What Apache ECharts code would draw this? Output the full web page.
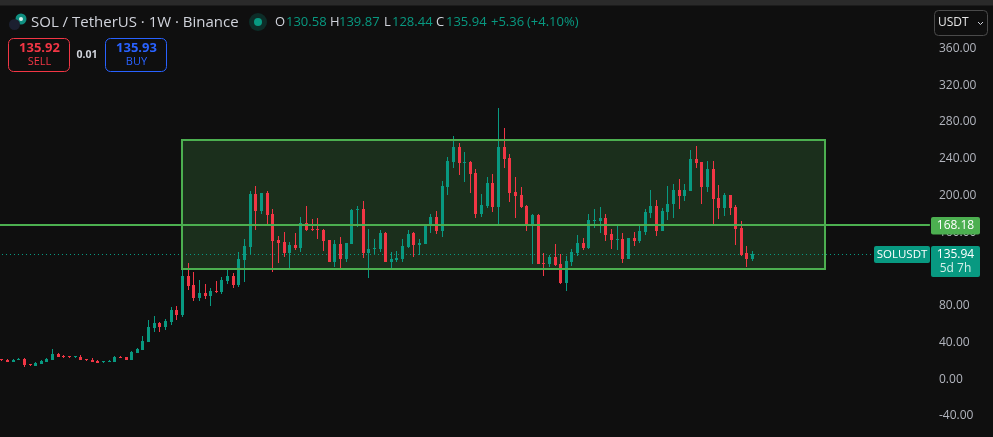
<!DOCTYPE html>
<html>
<head>
<meta charset="utf-8">
<style>html,body{margin:0;padding:0;background:#0f0f0f}#c{width:993px;height:437px}</style>
<script src="https://cdn.jsdelivr.net/npm/echarts@6/dist/echarts.min.js"></script>
</head>
<body>
<div id="c"></div>
<script>
const opens = [21.9,20.8,18.6,20.8,21.9,16.4,14.2,16.4,18.6,20.8,
27.3,25.1,25.1,24,24,21.9,20.8,19.7,18.6,18.6,
18.6,24,24,20.8,28.4,31.7,40.4,55.6,61,56.7,
62.2,75.2,69.8,112.3,102.5,88.4,93.8,90.5,96,94.9,
106.9,112.3,102.5,129.8,143.9,201.7,183.1,202.7,179.9,151.5,
149.4,137.4,146.1,142.8,170.1,163.5,163.5,162.4,151.5,127.6,
147.2,130.8,147.2,184.2,185.3,137.4,141.7,141.7,159.2,127.6,
129.8,130.8,143.9,159.2,146.1,147.2,166.8,176.6,161.3,209.2,
236.5,252.8,235.4,236.5,224.5,179.8,188.5,213.6,187.4,252.8,
240.8,203.8,200.5,188.6,167.9,178.8,126.5,125.4,133,125.4,
104.7,127.6,137.4,148.3,142.8,172.2,172.2,175.5,158.1,151.5,
152.6,130.8,153.7,150.5,160.3,181,188.6,161.4,182.1,190.8,
206,199.5,204.9,239.8,236.5,209.3,228.9,197.3,186.4,200.6,
187.5,164.6,137.4,130.58];
const closes = [20.8,18.6,20.8,21.9,15.3,15.3,17.5,19.7,21.9,27.3,
24,24,24,25.1,20.8,20.8,18.6,17.5,19.7,19.7,
24,23,20.8,29.5,32.8,41.5,56.7,61,56.7,63.2,
75.2,69.8,112.3,101.4,88.4,93.8,90.5,96,94.9,108,
112.3,102.5,130.8,145,201.7,183.1,202.7,178.8,150.5,148.3,
137.4,146.1,142.8,170.1,162.4,162.4,162.4,150.5,127.6,147.2,
130.8,148.3,184.2,185.3,137.4,141.7,142.8,159.2,127.6,130.8,
131.9,145,158.1,146.1,148.3,167.9,176.6,161.3,210.4,237.6,
252.8,235.4,236.5,223.4,179.8,189.6,213.6,187.4,252.8,239.7,
202.7,199.4,187.4,167.9,178.8,125.4,125.4,133,124.3,104.7,
128.7,138.5,148.3,142.8,173.3,173.3,175.5,157,151.5,152.6,
130.8,153.7,150.4,161.4,182.1,188.6,161.4,183.2,190.8,206,
199.5,206,239.8,235.4,209.3,228.9,196.2,186.4,200.6,186.4,
163.5,135.2,130.58,135.94];
const highs = [21.9,21.9,21.9,23,23,16.4,18.6,20.8,23,32.8,
28.4,26.2,25.1,25.1,26.2,21.9,23,20.8,19.7,20.8,
25.1,25.1,24,30.6,33.8,46.9,64.3,68.7,62.2,65.4,
78.5,79.6,118.9,126.5,116.7,108,103.6,99.3,106.9,111.2,
118.9,115.6,138.5,152.6,204.9,210.4,202.7,204.9,185.3,155.9,
160.3,149.4,159.2,176.6,188.6,174.4,175.5,163.5,151.5,151.5,
154.8,148.3,185.3,188.6,194,163.5,152.6,162.4,160.3,138.5,
139.6,152.6,162.4,160.3,152.6,167.9,179.9,183.1,215.8,241.9,
264.8,257.2,247.4,237.6,228.8,201.6,220.1,223.4,295.3,273.5,
245.2,220.1,209.2,189.7,179.9,179.9,137.4,135.2,147.2,136.3,
134.1,141.7,157,153.7,179.9,185.3,187.5,179.9,163.5,169,
159.2,153.7,160.3,166.8,185.3,206,195.1,186.4,210.4,212.6,
218,212.6,249.6,254,236.5,237.6,237.6,211.5,202.8,200.6,
189.7,172.3,145,139.87];
const lows = [19.7,18.6,18.6,20.8,13.1,14.2,14.2,16.4,18.6,20.8,
24,23,23,23,20.8,19.7,18.6,17.5,17.5,18.6,
18.6,23,20.8,20.8,28.4,31.7,40.4,51.3,51.3,53.4,
58.9,64.3,67.6,97.1,85.1,85.1,87.3,79.7,93.8,92.7,
103.6,99.3,100.3,105.8,135.2,162.4,179.9,167.9,116.7,126.5,
133,118.9,140.7,138.5,161.3,161.3,152.6,139.6,127.6,122.1,
121,127.6,147.2,165.7,132,110.2,136.3,138.5,127.6,120,
127.6,127.6,142.8,133,135.2,147.2,159.2,158.1,154.8,200.5,
229.9,222.3,214.7,202.7,175.5,176.6,186.4,182,168.9,229.9,
192.9,175.5,186.4,161.3,125.4,125.4,112.3,122.1,123.2,103.6,
96,123.2,134.1,140.7,141.7,164.6,159.2,150.4,141.7,140.7,
126.5,130.8,145,148.3,157,175.5,156,161.4,173.4,175.5,
185.3,194,204.9,230,190.8,203.9,169,174.4,177.7,178.8,
146.1,134.1,122.2,128.44];
const slotCount = 165;                 // candles plus the empty space to the right
const boxLow = 120.3, boxHigh = 260.5, boxFrom = 32, boxTo = 146;
const hLine = 168.18, lastPrice = 135.94;
const axisMin = -60, axisMax = 400, axisStep = 20;
const shownTicks = [360,320,280,240,200,160,120,80,40,0,-40];

const UP = '#089981', DOWN = '#f23645', BOX = '#4caf50', AXIS = '#b2b5be';
const FONT = '"Open Sans","Noto Sans",sans-serif';
const X_SHIFT = -1.5;                  // the first candle is cut by the left edge of the window

const categories = Array.from({length: slotCount}, (_, i) => 'W' + i);
const candles = opens.map((o, i) => [i, o, closes[i], lows[i], highs[i]]);

function label(x, y, text, fill, size, weight, align) {
  return {type:'text', z:100, silent:true, style:{x, y, text, fill, fontFamily:FONT,
    fontSize:size, fontWeight:weight||'normal', align:align||'left', verticalAlign:'middle'}};
}
function box(x, y, w, h, fill, stroke, r) {
  return {type:'rect', z:99, silent:true, shape:{x, y, width:w, height:h, r:r||0},
    style:{fill:fill||'transparent', stroke:stroke||null, lineWidth:stroke?1:0}};
}
const TXT = '#d1d4dc';
const graphics = [
  // window frame
  box(0,0,993,5.5,'#2a2a2a'),
  // symbol icon
  {type:'circle', z:100, silent:true, shape:{cx:21,cy:19,r:5.5}, style:{fill:'#0f8f80'}},
  {type:'circle', z:100, silent:true, shape:{cx:21,cy:19,r:2}, style:{fill:'#d8f0ec'}},
  {type:'circle', z:101, silent:true, shape:{cx:14.5,cy:24.5,r:5.5}, style:{fill:'#1c2030'}},
  label(31,22.5,'SOL / TetherUS · 1W · Binance',TXT,15),
  // market status dot
  {type:'circle', z:100, silent:true, shape:{cx:258,cy:22,r:9}, style:{fill:'#0d2d28'}},
  {type:'circle', z:100, silent:true, shape:{cx:258,cy:22,r:4}, style:{fill:UP}},
  // OHLC legend
  label(275,22.5,'O',TXT,13), label(286,22.5,'130.58',UP,13),
  label(330,22.5,'H',TXT,13), label(339,22.5,'139.87',UP,13),
  label(384,22.5,'L',TXT,13), label(392,22.5,'128.44',UP,13),
  label(436,22.5,'C',TXT,13), label(446,22.5,'135.94',UP,13),
  label(491,22.5,'+5.36',UP,13), label(527,22.5,'(+4.10%)',UP,13),
  // sell / buy buttons
  box(8.5,38.5,61,33,null,DOWN,5),
  label(39.5,48,'135.92',DOWN,13,'bold','center'),
  label(39.5,62,'SELL',DOWN,11,'normal','center'),
  label(87,55,'0.01',TXT,10.5,'bold','center'),
  box(105.5,38.5,61,33,null,'#2962ff',5),
  label(136.5,48,'135.93','#2962ff',13,'bold','center'),
  label(136.5,62,'BUY','#2962ff',11,'normal','center'),
  // currency button
  box(934.5,10.5,53,25,'#0f0f0f','#4a4a4a',4),
  label(938,23,'USDT','#e6e6e6',12),
  {type:'polyline', z:100, silent:true, shape:{points:[[978,22],[980.5,24.5],[983,22]]},
    style:{stroke:'#d1d4dc',lineWidth:1,fill:null}},
  // price tags
  box(931,217,49,17.5,BOX,null,2),
  label(955.5,225.5,'168.18','#ffffff',12,'normal','center'),
  box(874,246,56,17,UP,null,2),
  label(902,254.5,'SOLUSDT','#ffffff',11.5,'normal','center'),
  box(931,246,49,31,UP,null,2),
  label(955.5,255,'135.94','#ffffff',12,'normal','center'),
  label(955.5,269,'5d 7h','#d5efe9',12,'normal','center')
];

// Candles drawn through the axes' scales, snapped to whole pixels.
function renderCandle(params, api) {
  const i = api.value(0), o = api.value(1), c = api.value(2), l = api.value(3), h = api.value(4);
  const color = c >= o ? UP : DOWN;
  const cx = Math.round(api.coord([i, o])[0] + X_SHIFT);
  const top = Math.round(api.coord([i, Math.max(o, c)])[1]);
  const bot = Math.round(api.coord([i, Math.min(o, c)])[1]);
  const hi = Math.round(api.coord([i, h])[1]);
  const lo = Math.round(api.coord([i, l])[1]);
  return {type:'group', children:[
    {type:'rect', shape:{x:cx, y:hi, width:1, height:Math.max(lo - hi, 1)}, style:{fill:color}},
    {type:'rect', shape:{x:cx - 1, y:top, width:3, height:Math.max(bot - top, 1)}, style:{fill:color}}
  ]};
}
function boxShape(api) {
  const a = api.coord([api.value(0), api.value(3)]), b = api.coord([api.value(1), api.value(2)]);
  const x0 = Math.round(a[0] + X_SHIFT), y0 = Math.round(a[1]);
  const x1 = Math.floor(b[0] + X_SHIFT), y1 = Math.round(b[1]);
  return {x:x0, y:y0, width:x1 - x0, height:y1 - y0};
}
function renderBoxFill(params, api) {
  return {type:'rect', shape:boxShape(api), style:{fill:'rgba(76,175,80,0.2)'}};
}
function renderBoxEdge(params, api) {
  return {type:'rect', shape:boxShape(api), style:{fill:null, stroke:BOX, lineWidth:2}};
}
function renderHLine(params, api) {
  const y = Math.round(api.coord([0, api.value(0)])[1]);
  const cs = params.coordSys;
  return {type:'line', shape:{x1:0, y1:y, x2:cs.x + cs.width + X_SHIFT, y2:y},
    style:{stroke:BOX, lineWidth:2}};
}
function renderDotLine(params, api) {
  const y = Math.floor(api.coord([0, api.value(0)])[1]) + 0.5;
  const cs = params.coordSys;
  return {type:'line', shape:{x1:2, y1:y, x2:cs.x + cs.width + X_SHIFT, y2:y},
    style:{stroke:UP, lineWidth:1, lineDash:[1,3]}};
}

const boxData = [[boxFrom, boxTo, boxLow, boxHigh]];
const chart = echarts.init(document.getElementById('c'), null, {renderer:'canvas'});
chart.setOption({
  animation:false,
  backgroundColor:'#0f0f0f',
  grid:{left:0, width:931.4, top:11.9, height:422.3, containLabel:false},
  xAxis:{type:'category', data:categories, boundaryGap:true, show:false},
  yAxis:{type:'value', position:'right', min:axisMin, max:axisMax, interval:axisStep,
    axisLine:{show:false}, axisTick:{show:false}, splitLine:{show:false},
    axisLabel:{color:AXIS, fontFamily:FONT, fontSize:12, margin:7.6, padding:[2,0,0,0],
      formatter:v => shownTicks.includes(v) ? v.toFixed(2) : ''}},
  graphic:{elements:graphics},
  series:[
    {type:'custom', name:'rangeFill', coordinateSystem:'cartesian2d', silent:true, z:1, clip:false,
      data:boxData, encode:{x:[0,1], y:[2,3]}, renderItem:renderBoxFill},
    {type:'custom', name:'lastPrice', coordinateSystem:'cartesian2d', silent:true, z:2, clip:false,
      data:[[lastPrice]], encode:{y:0}, renderItem:renderDotLine},
    {type:'custom', name:'SOLUSDT', coordinateSystem:'cartesian2d', silent:true, z:3, clip:false,
      data:candles, encode:{x:0, y:[1,2,3,4]}, renderItem:renderCandle},
    {type:'custom', name:'rangeEdge', coordinateSystem:'cartesian2d', silent:true, z:5, clip:false,
      data:boxData, encode:{x:[0,1], y:[2,3]}, renderItem:renderBoxEdge},
    {type:'custom', name:'level', coordinateSystem:'cartesian2d', silent:true, z:6, clip:false,
      data:[[hLine]], encode:{y:0}, renderItem:renderHLine}
  ]
});
</script>
</body>
</html>
